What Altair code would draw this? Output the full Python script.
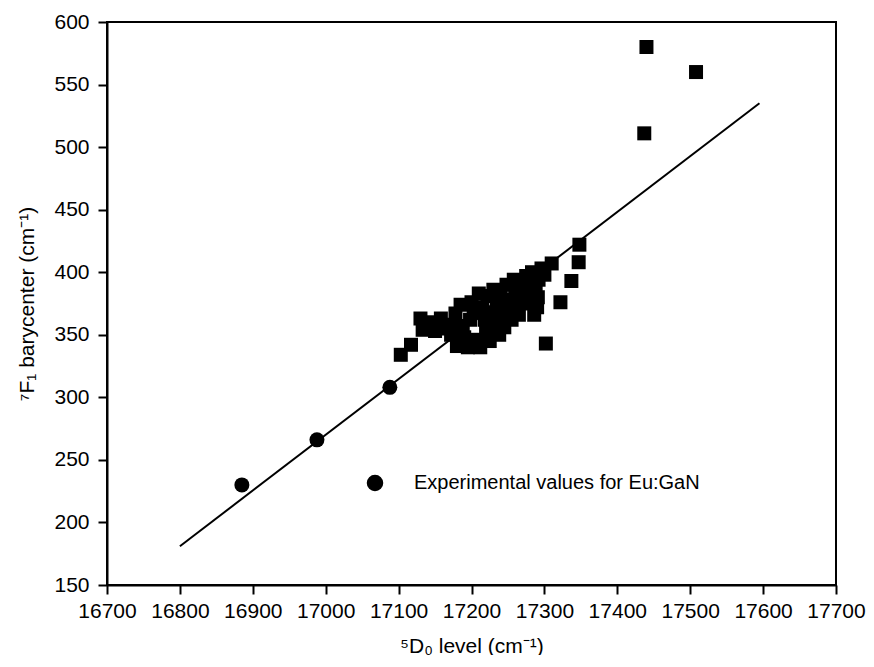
import altair as alt
import pandas as pd

# Squares (theoretical / other values)
sq_x = [17440, 17508, 17437, 17348, 17347, 17337, 17322, 17302, 17310, 17103, 17117,
        17130, 17133, 17145, 17150, 17158, 17160, 17170, 17172, 17178, 17180, 17185,
        17188, 17190, 17195, 17198, 17200, 17203, 17205, 17208, 17210, 17212, 17215,
        17218, 17220, 17222, 17225, 17228, 17230, 17232, 17235, 17238, 17240, 17242,
        17245, 17248, 17250, 17252, 17255, 17258, 17260, 17262, 17265, 17268, 17270,
        17275, 17278, 17280, 17283, 17288, 17290, 17292, 17296, 17300, 17291, 17286]
sq_y = [580, 560, 511, 422, 408, 393, 376, 343, 407, 334, 342,
        363, 354, 360, 353, 363, 355, 358, 350, 367, 341, 374,
        357, 348, 340, 362, 376, 368, 343, 346, 383, 340, 372,
        362, 352, 381, 345, 368, 386, 358, 376, 350, 385, 366,
        356, 390, 378, 370, 362, 394, 384, 374, 366, 392, 380,
        397, 386, 375, 400, 384, 372, 394, 403, 398, 380, 366]

# Circles: experimental values for Eu:GaN
circ_x = [16885, 16988, 17088]
circ_y = [230, 266, 308]
circ_label = "Experimental values for Eu:GaN"

# Fitted line
fit_x = [16800, 17595]
fit_y = [181, 535]

x_ticks = list(range(16700, 17701, 50))
y_ticks = list(range(150, 601, 25))

FONT = "Liberation Sans"

sq_df = pd.DataFrame({"x": sq_x, "y": sq_y})
circ_df = pd.DataFrame({"x": circ_x, "y": circ_y, "series": [circ_label] * len(circ_x)})
fit_df = pd.DataFrame({"x": fit_x, "y": fit_y})

x_scale = alt.Scale(domain=[16700, 17700], nice=False, zero=False)
y_scale = alt.Scale(domain=[150, 600], nice=False, zero=False)

x_axis = alt.Axis(
    values=x_ticks,
    labelExpr="datum.value % 100 == 0 ? format(datum.value, 'd') : ''",
    labelOverlap=False,
    labelFlush=False,
    tickSize={"condition": {"test": "datum.value % 100 == 0", "value": 9}, "value": 5},
    title="⁵D₀ level (cm⁻¹)",
    titlePadding=14,
    labelPadding=6,
    grid=False,
)
y_axis = alt.Axis(
    values=y_ticks,
    labelExpr="datum.value % 50 == 0 ? format(datum.value, 'd') : ''",
    labelOverlap=False,
    labelFlush=False,
    tickSize={"condition": {"test": "datum.value % 50 == 0", "value": 9}, "value": 5},
    title="⁷F₁ barycenter (cm⁻¹)",
    titlePadding=16,
    labelPadding=9,
    grid=False,
)

line = alt.Chart(fit_df).mark_line(color="black", strokeWidth=2).encode(
    x=alt.X("x:Q", scale=x_scale, axis=x_axis),
    y=alt.Y("y:Q", scale=y_scale, axis=y_axis),
)

squares = alt.Chart(sq_df).mark_point(shape="square", filled=True, size=196, color="black", opacity=1).encode(
    x=alt.X("x:Q", scale=x_scale),
    y=alt.Y("y:Q", scale=y_scale),
)

circles = alt.Chart(circ_df).mark_point(shape="circle", filled=True, size=225, opacity=1).encode(
    x=alt.X("x:Q", scale=x_scale),
    y=alt.Y("y:Q", scale=y_scale),
    color=alt.Color(
        "series:N",
        scale=alt.Scale(range=["black"]),
        legend=alt.Legend(
            orient="none",
            legendX=258,
            legendY=451,
            title=None,
            padding=0,
            labelFontSize=20,
            labelFont=FONT,
            labelColor="black",
            labelOffset=29,
            labelLimit=500,
            symbolSize=225,
            symbolType="circle",
            symbolFillColor="black",
            symbolStrokeColor="black",
            symbolOpacity=1,
        ),
    ),
)

chart = (
    alt.layer(line, squares, circles)
    .properties(
        width=729,
        height=563,
        autosize=alt.AutoSizeParams(type="none"),
        padding={"left": 99, "top": 14, "right": 30, "bottom": 70},
        background="white",
    )
    .configure_view(stroke="black", strokeWidth=2)
    .configure_axis(
        domainColor="black",
        domainWidth=2,
        tickColor="black",
        tickWidth=2,
        labelFont=FONT,
        labelFontSize=21,
        labelColor="black",
        titleFont=FONT,
        titleFontSize=21,
        titleFontWeight="normal",
        titleColor="black",
    )
)

chart.save("out.html", embed_options={"renderer": "svg", "actions": False})
